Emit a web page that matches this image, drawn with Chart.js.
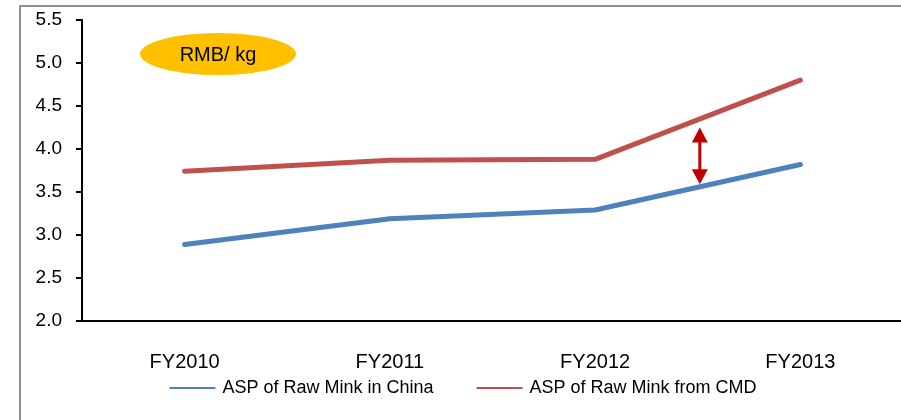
<!DOCTYPE html>
<html>
<head>
<meta charset="utf-8">
<script src="https://cdn.jsdelivr.net/npm/chart.js@4/dist/chart.umd.min.js"></script>
<style>
  html, body { margin: 0; padding: 0; background: #ffffff; overflow: hidden; width: 901px; height: 420px; }
  #frame { position: absolute; left: 19px; top: 5px; width: 1200px; height: 800px; border: 2px solid #8f8f8f; box-sizing: border-box; }
  #wrap { position: absolute; left: 0; top: 0; width: 930px; height: 420px; }
</style>
</head>
<body>
<div id="frame"></div>
<div id="wrap"><canvas id="c" width="930" height="420"></canvas></div>
<script>
// Fiscal years on the category axis
const years = ['FY2010', 'FY2011', 'FY2012', 'FY2013'];

// Average selling price of raw mink, RMB per kg
const aspChina = [2.89, 3.19, 3.29, 3.82];
const aspCMD = [3.74, 3.87, 3.88, 4.80];

const seriesNames = ['ASP of Raw Mink in China', 'ASP of Raw Mink from CMD'];
const unitLabel = 'RMB/ kg';

// Y axis range and step
const yMin = 2.0;
const yMax = 5.5;
const yStep = 0.5;

// Price gap marker, drawn between FY2012 and FY2013
const gapAt = 2.51;
const gapTop = 4.25;
const gapBottom = 3.59;

const BLUE = '#4F81BD';
const RED = '#C0504D';
const FONT = '"Liberation Sans", Arial, sans-serif';

// Yellow unit badge in the upper-left of the plot area
const unitBadge = {
  id: 'unitBadge',
  afterDatasetsDraw(chart) {
    const { ctx, chartArea } = chart;
    const cx = chartArea.left + 136;
    const cy = chartArea.top + 34;
    ctx.save();
    ctx.beginPath();
    ctx.ellipse(cx, cy, 78, 21, 0, 0, Math.PI * 2);
    ctx.fillStyle = '#FFC000';
    ctx.fill();
    ctx.fillStyle = '#000000';
    ctx.font = '20px ' + FONT;
    ctx.textAlign = 'center';
    ctx.textBaseline = 'middle';
    ctx.fillText(unitLabel, cx, cy + 1);
    ctx.restore();
  }
};

// Double-headed arrow showing the price gap between the two series
const gapArrow = {
  id: 'gapArrow',
  afterDatasetsDraw(chart) {
    const { ctx } = chart;
    const x = chart.scales.x.getPixelForValue(gapAt);
    const yTop = chart.scales.y.getPixelForValue(gapTop);
    const yBot = chart.scales.y.getPixelForValue(gapBottom);
    const headH = 15, headW = 8;
    ctx.save();
    ctx.strokeStyle = '#C00000';
    ctx.fillStyle = '#C00000';
    ctx.lineWidth = 3;
    ctx.beginPath();
    ctx.moveTo(x, yTop + headH - 1);
    ctx.lineTo(x, yBot - headH + 1);
    ctx.stroke();
    ctx.beginPath();
    ctx.moveTo(x, yTop);
    ctx.lineTo(x - headW, yTop + headH);
    ctx.lineTo(x + headW, yTop + headH);
    ctx.closePath();
    ctx.fill();
    ctx.beginPath();
    ctx.moveTo(x, yBot);
    ctx.lineTo(x - headW, yBot - headH);
    ctx.lineTo(x + headW, yBot - headH);
    ctx.closePath();
    ctx.fill();
    ctx.restore();
  }
};

// Series key below the category labels: a short line swatch and the series name
const seriesKey = {
  id: 'seriesKey',
  afterDraw(chart) {
    const { ctx } = chart;
    const swatch = 46, gap = 7, spacing = 43;
    const y = chart.scales.x.bottom + 7;
    ctx.save();
    ctx.font = '18px ' + FONT;
    ctx.textBaseline = 'middle';
    ctx.textAlign = 'left';
    const items = chart.data.datasets.map(ds => ({
      text: ds.label,
      color: ds.borderColor,
      w: swatch + gap + ctx.measureText(ds.label).width
    }));
    const total = items.reduce((s, it) => s + it.w, 0) + spacing * (items.length - 1);
    let x = chart.width / 2 - total / 2 - 2;
    items.forEach(it => {
      ctx.fillStyle = it.color;
      ctx.fillRect(x, y - 1, swatch, 2);
      ctx.fillStyle = '#000000';
      ctx.fillText(it.text, x + swatch + gap, y);
      x += it.w + spacing;
    });
    ctx.restore();
  }
};

new Chart(document.getElementById('c'), {
  type: 'line',
  data: {
    labels: years,
    datasets: [
      {
        label: seriesNames[0],
        data: aspChina,
        borderColor: BLUE,
        backgroundColor: BLUE,
        borderWidth: 5,
        pointRadius: 0,
        tension: 0,
        borderCapStyle: 'round',
        borderJoinStyle: 'round'
      },
      {
        label: seriesNames[1],
        data: aspCMD,
        borderColor: RED,
        backgroundColor: RED,
        borderWidth: 5,
        pointRadius: 0,
        tension: 0,
        borderCapStyle: 'round',
        borderJoinStyle: 'round'
      }
    ]
  },
  options: {
    responsive: false,
    animation: false,
    devicePixelRatio: 1,
    layout: { padding: { left: 25, right: 27, top: 20, bottom: 39 } },
    plugins: {
      tooltip: { enabled: false },
      legend: { display: false }
    },
    scales: {
      x: {
        offset: true,
        grid: { display: false, drawTicks: false, tickLength: 0 },
        border: { display: true, color: '#000000', width: 2 },
        ticks: { color: '#000000', font: { family: FONT, size: 20 }, padding: 29, maxRotation: 0 },
        afterFit(scale) {
          scale.height = 60;
          scale.paddingLeft = 0;
          scale.paddingRight = 0;
        }
      },
      y: {
        min: yMin,
        max: yMax,
        grid: { display: true, drawOnChartArea: false, drawTicks: true, tickLength: 6, color: '#000000', lineWidth: 2 },
        border: { display: true, color: '#000000', width: 2 },
        ticks: {
          stepSize: yStep,
          color: '#000000',
          font: { family: FONT, size: 19 },
          padding: 14,
          callback: v => Number(v).toFixed(1)
        },
        afterFit(scale) {
          scale.width = 57;
          scale.paddingTop = 0;
          scale.paddingBottom = 0;
        }
      }
    }
  },
  plugins: [unitBadge, gapArrow, seriesKey]
});
</script>
</body>
</html>
